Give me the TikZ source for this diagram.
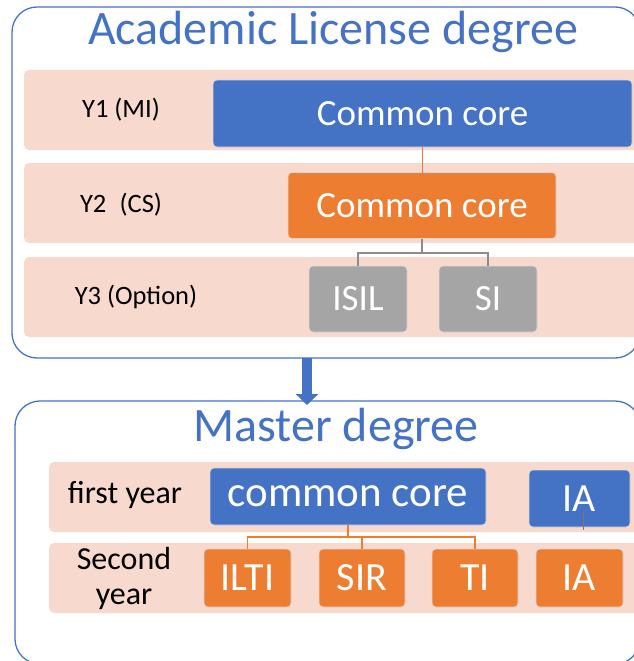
\documentclass[tikz,border=0pt]{standalone}
\usepackage{fontspec}
\setmainfont{Carlito}
\usetikzlibrary{arrows.meta}
\definecolor{cblue}{HTML}{4472C4}
\definecolor{corange}{HTML}{ED7D31}
\definecolor{cgray}{HTML}{A5A5A5}
\definecolor{cband}{HTML}{F8D9CE}
\definecolor{cline}{HTML}{8C7068}
\tikzset{
	frame/.style={draw=cblue, line width=1.3pt, rounded corners=25pt, inner sep=0pt, outer sep=0pt},
	band/.style={fill=cband, rounded corners=5pt, inner sep=0pt, outer sep=0pt},
	headline/.style={text=cblue, font=\fontsize{48}{52}\selectfont},
	yearlabel/.style={font=\fontsize{26.5}{30}\selectfont},
	box/.style={draw=white!85!black, line width=.6pt, rounded corners=4pt, text=white, inner sep=0pt, outer sep=0pt},
	bluebox/.style={box, fill=cblue},
	orangebox/.style={box, fill=corange},
	graybox/.style={box, fill=cgray},
	oedge/.style={draw=corange, line width=1.2pt},
	gedge/.style={draw=cgray!85!black, line width=1.2pt}
}
\begin{document}
\begin{tikzpicture}[x=1pt, y=-1pt]
	\clip (0,0) rectangle (634,661);

	\node[frame, minimum width=628pt, minimum height=351pt] (lic) at (326,182.5) {};
	\node[frame, minimum width=625pt, minimum height=263pt] (mas) at (327.5,532.5) {};

	\node[headline] (tlic) at (333,32) {Academic License degree};
	\node[headline] (tmas) at (336,429) {Master degree};

	\node[band, minimum width=616pt, minimum height=80pt] (b1) at (332,110) {};
	\node[band, minimum width=616pt, minimum height=80pt] (b2) at (332,203) {};
	\node[band, minimum width=616pt, minimum height=80pt] (b3) at (332,297) {};
	\node[band, minimum width=591pt, minimum height=70pt] (b4) at (344.5,497) {};
	\node[band, minimum width=591pt, minimum height=70pt] (b5) at (344.5,578) {};

	\node[yearlabel] (y1) at (121,110) {Y1 (MI)};
	\node[yearlabel] (y2) at (121,205) {Y2\enspace(CS)};
	\node[yearlabel] (y3) at (136,297) {Y3 (Option)};
	\node[yearlabel, font=\fontsize{32}{35}\selectfont] (y4) at (125,495) {first year};
	\node[yearlabel, font=\fontsize{32}{35}\selectfont, align=center] (y5) at (124,578) {Second\\year};

	\node[bluebox, minimum width=419pt, minimum height=67pt, font=\fontsize{37}{40}\selectfont] (cc1) at (422.5,113.5) {Common core};
	\node[orangebox, minimum width=268pt, minimum height=66pt, font=\fontsize{37}{40}\selectfont] (cc2) at (422,205.5) {Common core};
	\node[graybox, minimum width=98pt, minimum height=66pt, font=\fontsize{37}{40}\selectfont] (isil) at (358,299) {ISIL};
	\node[graybox, minimum width=98pt, minimum height=66pt, font=\fontsize{37}{40}\selectfont] (si) at (488,299) {SI};

	\node[bluebox, minimum width=276pt, minimum height=57pt, font=\fontsize{43}{46}\selectfont] (cc3) at (348,496.5) {common core};
	\node[bluebox, minimum width=101pt, minimum height=57pt, font=\fontsize{40}{44}\selectfont] (ia1) at (579.5,498.5) {IA};
	\node[orangebox, minimum width=87pt, minimum height=58pt, font=\fontsize{40}{44}\selectfont] (ilti) at (247.5,578) {ILTI};
	\node[orangebox, minimum width=86pt, minimum height=58pt, font=\fontsize{40}{44}\selectfont] (sir) at (362,578) {SIR};
	\node[orangebox, minimum width=86pt, minimum height=58pt, font=\fontsize{40}{44}\selectfont] (ti) at (475,578) {TI};
	\node[orangebox, minimum width=87pt, minimum height=58pt, font=\fontsize{40}{44}\selectfont] (ia2) at (579.5,578) {IA};

	\draw[oedge] (cc1.south) -- (cc1.south |- cc2.north);
	\draw[gedge] (cc2.south) |- ([yshift=13pt]isil.north) -- (isil.north);
	\draw[gedge] (cc2.south) |- ([yshift=13pt]si.north) -- (si.north);

	\draw[oedge] (cc3.south) |- ([yshift=12pt]ilti.north) -- (ilti.north);
	\draw[oedge] (cc3.south) |- ([yshift=12pt]sir.north) -- (sir.north);
	\draw[oedge] (cc3.south) |- ([yshift=12pt]ti.north) -- (ti.north);

	\coordinate (iaend) at ([xshift=3.5pt, yshift=-3pt]ia1.south);
	\draw[draw=cline, line width=1pt] ([xshift=3.5pt, yshift=-12pt]ia1.center) -- (iaend);

	\coordinate (ax) at (307,0);
	\draw[draw=cblue, line width=10pt, -{Triangle[width=22pt, length=11pt]}] (lic.south -| ax) -- ([yshift=-4pt]mas.north -| ax);
\end{tikzpicture}
\end{document}
